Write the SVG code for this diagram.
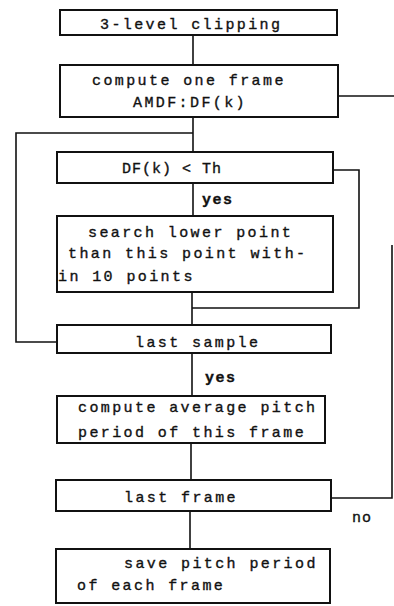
<svg xmlns="http://www.w3.org/2000/svg" width="394" height="606" viewBox="0 0 394 606">
<style>
.box{fill:#fff;stroke:#111;stroke-width:2}
.ln{fill:none;stroke:#111;stroke-width:1.6}
text{font-family:"Liberation Mono","Courier New",monospace;font-size:15px;fill:#111;stroke:#111;stroke-width:0.35;letter-spacing:2.4px}
.b{font-weight:bold;letter-spacing:1.5px}
</style>
<rect width="394" height="606" fill="#fff"/>
<g id="connectors">
<path class="ln" d="M193 35V65"/>
<path class="ln" d="M338 96H394"/>
<path class="ln" d="M193 117V152"/>
<path class="ln" d="M193 133H16V342H57"/>
<path class="ln" d="M193 183V216"/>
<path class="ln" d="M333 170H359V308H192"/>
<path class="ln" d="M192 292V325"/>
<path class="ln" d="M192 353V396"/>
<path class="ln" d="M191 443V480"/>
<path class="ln" d="M331 498H392V245"/>
<path class="ln" d="M190 511V549"/>
<text class="b" x="202" y="204">yes</text>
<text class="b" x="205" y="382">yes</text>
<text x="352" y="522" style="letter-spacing:1px">no</text>
</g>
<g id="n1"><rect class="box" x="60" y="10" width="277" height="25"/><text x="100" y="29">3-level clipping</text></g>
<g id="n2"><rect class="box" x="60" y="65" width="278" height="52"/><text x="92" y="85">compute one frame</text><text x="133" y="107">AMDF:DF(k)</text></g>
<g id="n3"><rect class="box" x="57" y="152" width="276" height="31"/><text x="122" y="173" style="letter-spacing:1px">DF(k) &lt; Th</text></g>
<g id="n4"><rect class="box" x="57" y="216" width="276" height="76"/><text x="88" y="237">search lower point</text><text x="68" y="258">than this point with-</text><text x="58" y="281">in 10 points</text></g>
<g id="n5"><rect class="box" x="57" y="325" width="274" height="28"/><text x="135" y="347">last sample</text></g>
<g id="n6"><rect class="box" x="57" y="396" width="268" height="47"/><text x="78" y="412">compute average pitch</text><text x="78" y="437">period of this frame</text></g>
<g id="n7"><rect class="box" x="56" y="480" width="275" height="31"/><text x="124" y="502">last frame</text></g>
<g id="n8"><rect class="box" x="56" y="549" width="274" height="54"/><text x="124" y="568">save pitch period</text><text x="77" y="590">of each frame</text></g>
</svg>
